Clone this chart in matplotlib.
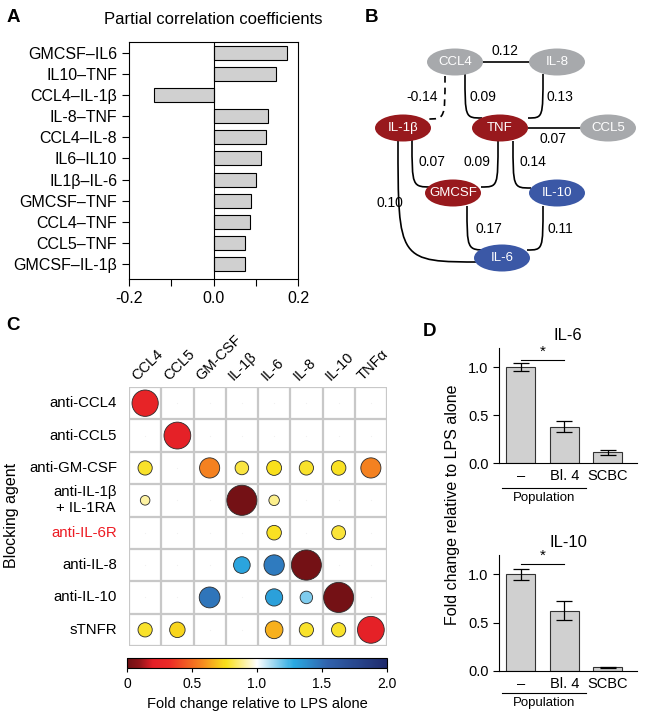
import numpy as np
import matplotlib as mpl
import matplotlib.pyplot as plt
from matplotlib.colors import LinearSegmentedColormap, Normalize
from matplotlib.patches import Ellipse, Circle, PathPatch
from matplotlib.path import Path

plt.rcParams['font.family'] = ['Liberation Sans', 'DejaVu Sans']

# ---- data ----
# A: partial correlation coefficients
pairs = ['GMCSF\u2013IL6', 'IL10\u2013TNF', 'CCL4\u2013IL-1\u03b2', 'IL-8\u2013TNF',
         'CCL4\u2013IL-8', 'IL6\u2013IL10', 'IL1\u03b2\u2013IL-6', 'GMCSF\u2013TNF',
         'CCL4\u2013TNF', 'CCL5\u2013TNF', 'GMCSF\u2013IL-1\u03b2']
pcorr = [0.174, 0.147, -0.141, 0.129, 0.125, 0.113, 0.100, 0.089, 0.087, 0.075, 0.074]

# B: network
node_names = ['CCL4', 'IL-8', 'IL-1\u03b2', 'TNF', 'CCL5', 'GMCSF', 'IL-10', 'IL-6']
node_group = ['gray', 'gray', 'red', 'red', 'gray', 'red', 'blue', 'blue']
edge_a = ['CCL4', 'CCL4', 'IL-8', 'CCL4', 'TNF', 'IL-1\u03b2', 'TNF', 'TNF', 'IL-1\u03b2', 'GMCSF', 'IL-10']
edge_b = ['IL-8', 'TNF', 'TNF', 'IL-1\u03b2', 'CCL5', 'GMCSF', 'GMCSF', 'IL-10', 'IL-6', 'IL-6', 'IL-6']
edge_w = [0.12, 0.09, 0.13, -0.14, 0.07, 0.07, 0.09, 0.14, 0.10, 0.17, 0.11]

# C: fold change relative to LPS alone
agents = ['anti-CCL4', 'anti-CCL5', 'anti-GM-CSF', 'anti-IL-1\u03b2\n+ IL-1RA',
          'anti-IL-6R', 'anti-IL-8', 'anti-IL-10', 'sTNFR']
cytokines = ['CCL4', 'CCL5', 'GM-CSF', 'IL-1\u03b2', 'IL-6', 'IL-8', 'IL-10', 'TNF\u03b1']
fold = [
    [0.25, 1, 1, 1, 1, 1, 1, 1],
    [1, 0.22, 1, 1, 1, 1, 1, 1],
    [0.78, 1, 0.56, 0.80, 0.76, 0.78, 0.77, 0.56],
    [0.90, 1, 1, 0.02, 0.88, 1, 1, 1],
    [1, 1, 1, 1, 0.77, 1, 0.79, 1],
    [1, 1, 1, 1.30, 1.45, 0.02, 1, 1],
    [1, 1, 1.47, 1, 1.32, 1.17, 0.02, 1],
    [0.78, 0.74, 1, 1, 0.66, 0.78, 0.78, 0.22],
]

# D: bulk measurements
d_groups = ['\u2013', 'Bl. 4', 'SCBC']
il6_mean = [1.0, 0.38, 0.11]
il6_err = [0.04, 0.055, 0.025]
il10_mean = [1.0, 0.625, 0.04]
il10_err = [0.06, 0.10, 0.006]

W, H = 645, 720


def box(l, t, r, b):
    return [l / W, 1 - b / H, (r - l) / W, (b - t) / H]


fig = plt.figure(figsize=(6.45, 7.2), dpi=100)

# ---------------- A ----------------
ax = fig.add_axes(box(129, 42, 298, 279))
y = np.arange(len(pairs))
ax.barh(y, pcorr, height=0.66, color='#d0d0d0', edgecolor='black', linewidth=0.8)
ax.axvline(0, color='black', lw=0.8)
ax.set_xlim(-0.2, 0.2)
ax.set_ylim(len(pairs) - 0.3, -0.5)
ax.set_xticks([-0.2, -0.1, 0, 0.1, 0.2])
ax.set_xticklabels(['-0.2', '', '0.0', '', '0.2'])
ax.set_yticks(y)
ax.set_yticklabels(pairs)
ax.tick_params(labelsize=11.5, length=5, width=0.8)
for s in ax.spines.values():
    s.set_linewidth(0.8)

# ---------------- B ----------------
axb = fig.add_axes(box(330, 30, 645, 290))
axb.set_xlim(330, 645)
axb.set_ylim(290, 30)
axb.axis('off')
node_pos = {'CCL4': (455, 62), 'IL-8': (557, 62), 'IL-1\u03b2': (403, 128), 'TNF': (500, 128),
            'CCL5': (608, 128), 'GMCSF': (453, 193), 'IL-10': (557, 193), 'IL-6': (502, 258)}
group_col = {'gray': '#a7a9ac', 'red': '#98191d', 'blue': '#3b58a6'}
# start point, end point, label position for each edge (layout)
edge_geom = [
    ((482, 62), (530, 62), (505, 51)),
    ((465, 74), (482, 118), (483, 97)),
    ((543, 74), (528, 118), (560, 97)),
    ((445, 76), (427, 119), (422, 97)),
    ((528, 128), (582, 128), (553, 139)),
    ((412, 140), (432, 187), (432, 162)),
    ((498, 141), (481, 187), (477, 162)),
    ((513, 141), (531, 188), (533, 162)),
    ((398, 141), (482, 262), (390, 203)),
    ((467, 206), (487, 250), (489, 229)),
    ((543, 206), (527, 250), (560, 229)),
]
for a, b, w, (p0, p1, lp) in zip(edge_a, edge_b, edge_w, edge_geom):
    if p0[1] == p1[1]:
        verts = [p0, p1]
        codes = [Path.MOVETO, Path.LINETO]
    else:
        c = (p0[0], p1[1])
        verts = [p0, c, c, p1]
        codes = [Path.MOVETO, Path.CURVE4, Path.CURVE4, Path.CURVE4]
    ls = (0, (4, 3)) if w < 0 else '-'
    axb.add_patch(PathPatch(Path(verts, codes), fill=False, lw=1.2, ls=ls,
                            edgecolor='black', zorder=1))
    axb.text(lp[0], lp[1], '%.2f' % w, ha='center', va='center', fontsize=10)
for n, g in zip(node_names, node_group):
    x0, y0 = node_pos[n]
    axb.add_patch(Ellipse((x0, y0), 56, 27, facecolor=group_col[g], edgecolor='none', zorder=3))
    axb.text(x0, y0, n, color='white', ha='center', va='center', fontsize=9.5, zorder=4)

# ---------------- C ----------------
cmap = LinearSegmentedColormap.from_list('fc', [
    (0.0, '#6e1014'), (0.045, '#8e1418'), (0.1, '#e41f27'), (0.16, '#ec2a26'),
    (0.29, '#f58a1f'), (0.38, '#f9e01b'), (0.5, '#ffffff'), (0.64, '#2aaae2'),
    (0.77, '#3163ad'), (1.0, '#1f2a6c')])
norm = Normalize(0, 2)
axc = fig.add_axes(box(129, 387, 387, 646))
axc.set_xlim(0, 8)
axc.set_ylim(8, 0)
axc.set_xticks([])
axc.set_yticks([])
for k in range(9):
    axc.axhline(k, color='#c8c8c8', lw=1.6, zorder=1)
    axc.axvline(k, color='#c8c8c8', lw=1.6, zorder=1)
for s in axc.spines.values():
    s.set_visible(False)
fold = np.array(fold)
for i in range(len(agents)):
    for j in range(len(cytokines)):
        v = fold[i, j]
        r = 0.47 * np.sqrt(abs(1 - v))
        if r < 0.02:
            axc.plot(j + 0.5, i + 0.5, 'o', ms=0.8, color='#f0f0f0', mew=0, zorder=2)
            continue
        axc.add_patch(Circle((j + 0.5, i + 0.5), r, facecolor=cmap(norm(v)),
                             edgecolor='#2a2a2a', lw=0.6, zorder=3))
for j, c in enumerate(cytokines):
    axc.text(j + 0.32, -0.12, c, rotation=45, rotation_mode='anchor',
             ha='left', va='bottom', fontsize=10.5)
for i, a in enumerate(agents):
    axc.text(-0.37, i + 0.5, a, ha='right', va='center', fontsize=10.8,
             multialignment='center', color='#ed1c24' if a == 'anti-IL-6R' else 'black')

cax = fig.add_axes(box(127, 658, 387, 668))
cb = mpl.colorbar.ColorbarBase(cax, cmap=cmap, norm=norm, orientation='horizontal',
                               ticks=[0, 0.5, 1.0, 1.5, 2.0])
cb.set_ticklabels(['0', '0.5', '1.0', '1.5', '2.0'])
cb.outline.set_linewidth(0.8)
cax.tick_params(labelsize=10, length=3, width=0.8)
cb.set_label('Fold change relative to LPS alone', fontsize=10.5, labelpad=4)

# ---------------- D ----------------
def bar_panel(rect, means, errs, title, sig_y):
    a = fig.add_axes(rect)
    xx = np.arange(len(d_groups))
    a.bar(xx, means, width=0.67, color='#d0d0d0', edgecolor='#333333', linewidth=0.8)
    a.errorbar(xx, means, yerr=errs, fmt='none', ecolor='black', elinewidth=0.9,
               capsize=6, capthick=0.9)
    a.set_xlim(-0.5, 2.67)
    a.set_ylim(0, 1.2)
    a.set_yticks([0, 0.5, 1.0])
    a.set_yticklabels(['0.0', '0.5', '1.0'])
    a.set_xticks(xx)
    a.set_xticklabels(d_groups)
    a.tick_params(axis='x', length=0, labelsize=10.5, pad=4)
    a.tick_params(axis='y', length=4, width=0.8, labelsize=10.5)
    for s in ['top', 'right']:
        a.spines[s].set_visible(False)
    for s in ['left', 'bottom']:
        a.spines[s].set_linewidth(0.8)
    a.plot([0, 1], [sig_y, sig_y], color='black', lw=0.8)
    a.text(0.5, sig_y + 0.01, '*', ha='center', va='bottom', fontsize=11)
    a.set_title(title, fontsize=12, pad=6)
    return a


bar_panel(box(499, 348, 637, 463), il6_mean, il6_err, 'IL-6', 1.08)
bar_panel(box(499, 555, 637, 671), il10_mean, il10_err, 'IL-10', 1.11)

# ---------------- overlay text ----------------
ov = fig.add_axes([0, 0, 1, 1])
ov.set_xlim(0, W)
ov.set_ylim(H, 0)
ov.axis('off')
for lab, (lx, ly) in zip('ABCD', [(13, 17), (372, 17), (13, 325), (430, 332)]):
    ov.text(lx, ly, lab, fontsize=13.5, fontweight='bold', ha='center', va='center')
ov.text(213, 20, 'Partial correlation coefficients', fontsize=12, ha='center', va='center')
ov.text(12, 515, 'Blocking agent', fontsize=11.5, rotation=90, ha='center', va='center')
ov.text(452, 505, 'Fold change relative to LPS alone', fontsize=11.5, rotation=90,
        ha='center', va='center')
for ly in [488, 693]:
    ov.plot([502, 586], [ly, ly], color='black', lw=0.8)
    ov.text(544, ly + 10, 'Population', fontsize=9.5, ha='center', va='center')

fig.savefig('out.png', dpi=100)
